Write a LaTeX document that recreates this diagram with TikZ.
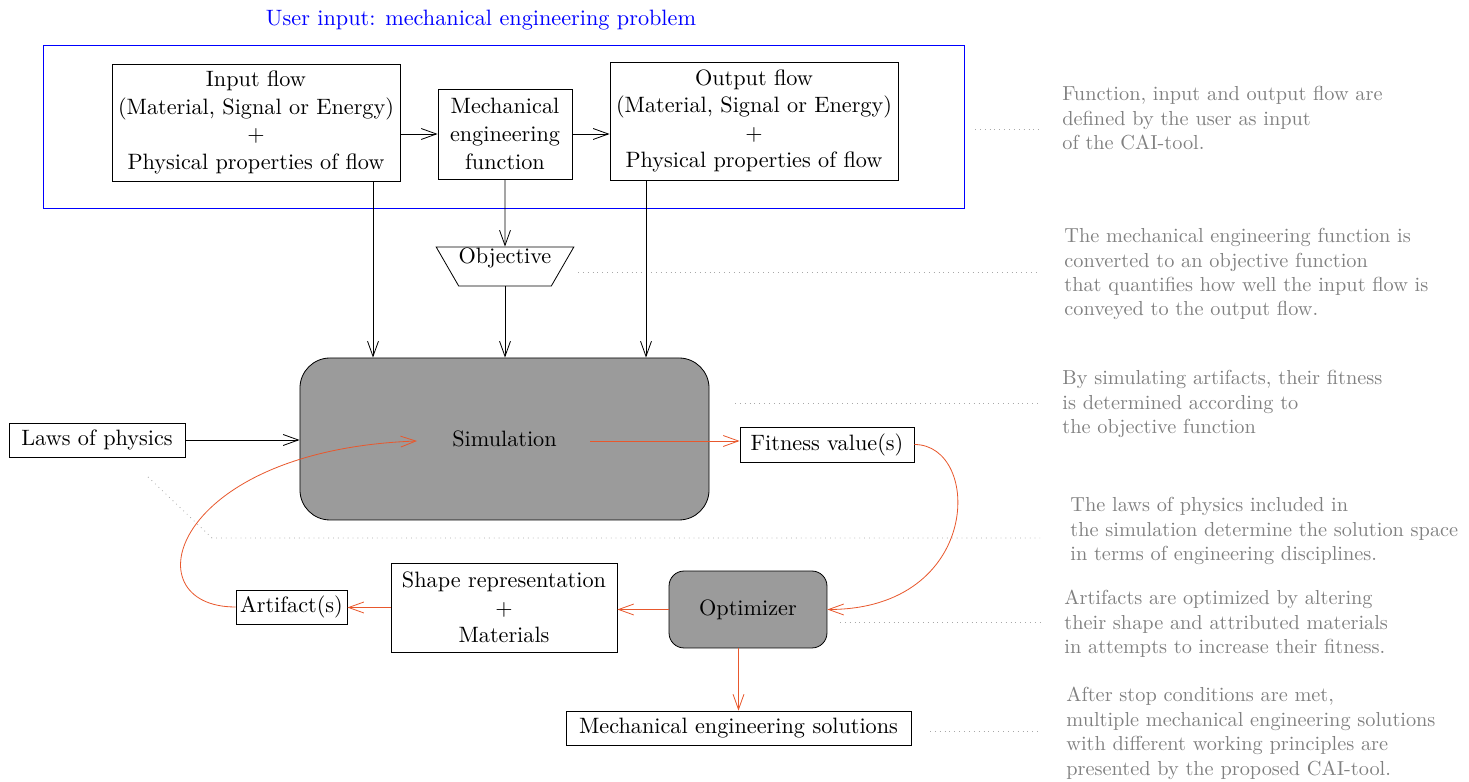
\documentclass[tikz,border=0pt,11pt]{standalone}
\usetikzlibrary{arrows.meta,shapes.geometric}
\definecolor{looporange}{RGB}{232,88,45}
\definecolor{blockgray}{RGB}{155,155,155}
\definecolor{notegray}{RGB}{128,128,128}
\definecolor{leadergray}{RGB}{168,168,168}
\begin{document}
\begin{tikzpicture}[x=0.4926pt,y=-0.4926pt,
  blackarrow/.style={draw=black,-{Straight Barb[length=7.5pt,width=5.4pt]}},
  redarrow/.style={draw=looporange,-{Straight Barb[length=7.5pt,width=5.4pt]}},
  plainbox/.style={draw, align=center, inner sep=0pt},
  grayblock/.style={draw, fill=blockgray, align=center, inner sep=0pt},
  annot/.style={text=notegray, font=\small, align=left, anchor=north west, inner sep=0pt},
  dotleader/.style={draw=leadergray, dotted}]
\useasboundingbox (0,0) rectangle (1469,782);

% user input frame
\node[draw=blue, minimum width=453.7pt, minimum height=80.3pt, inner sep=0pt] (userbox) at (503.5,126.5) {};
\node[text=blue] (usertitle) at (481,20) {User input: mechanical engineering problem};

\node[plainbox, minimum width=141.9pt, minimum height=57.6pt] (inflow) at (256,122.5)
  {Input flow\\(Material, Signal or Energy)\\+\\Physical properties of flow};
\node[plainbox, minimum width=66pt, minimum height=44.3pt] (mechf) at (505,134)
  {Mechanical\\engineering\\function};
\node[plainbox, minimum width=141.9pt, minimum height=58.1pt] (outflow) at (754,121)
  {Output flow\\(Material, Signal or Energy)\\+\\Physical properties of flow};

\node[draw, trapezium, shape border rotate=180, trapezium left angle=60, trapezium right angle=60,
  inner xsep=0pt, inner ysep=0pt, text height=7.9pt, text depth=11.3pt] (objective) at (505,266.5) {Objective};

% leader lines to the notes
\coordinate (l1a) at (975,129);  \coordinate (l1b) at (1040,129);
\coordinate (l2a) at (578,272);  \coordinate (l2b) at (1040,272);
\coordinate (l3a) at (735,403);  \coordinate (l3b) at (1040,403);
\coordinate (l4a) at (148,477);  \coordinate (l4k) at (212,538); \coordinate (l4b) at (1040,538);
\coordinate (l5a) at (840,622);  \coordinate (l5b) at (1040,622);
\coordinate (l6a) at (930,731);  \coordinate (l6b) at (1040,731);
\draw[dotleader] (l1a) -- (l1b);
\draw[dotleader] (l2a) -- (l2b);
\draw[dotleader] (l3a) -- (l3b);
\draw[dotleader] (l4a) -- (l4k) -- (l4b);
\draw[dotleader] (l5a) -- (l5b);
\draw[dotleader] (l6a) -- (l6b);

% simulation loop
\node[grayblock, rounded corners=14.8pt, minimum width=201.5pt, minimum height=79.8pt] (sim) at (504.5,439) {Simulation};
\coordinate (simin) at (417,441);
\coordinate (simout) at (590,441);
\node[plainbox, minimum width=86.7pt, minimum height=16.7pt] (laws) at (97,440) {Laws of physics};
\node[plainbox, minimum width=85.7pt, minimum height=17.2pt] (fitness) at (827,444.5) {Fitness value(s)};
\node[grayblock, rounded corners=7.4pt, minimum width=77.8pt, minimum height=37.9pt] (opt) at (748,609.5) {Optimizer};
\node[plainbox, minimum width=111.3pt, minimum height=43.8pt] (shape) at (504,607.5) {Shape representation\\+\\Materials};
\node[plainbox, minimum width=54.7pt, minimum height=16.7pt] (art) at (291.5,607) {Artifact(s)};
\node[plainbox, minimum width=170pt, minimum height=16.7pt] (sol) at (738.5,728) {Mechanical engineering solutions};

% black flows
\coordinate (inx) at (373,0);
\coordinate (outx) at (646,0);
\draw[blackarrow] (inflow.east |- mechf.west) -- (mechf.west);
\draw[blackarrow] (mechf.east) -- (outflow.west |- mechf.east);
\draw[blackarrow] (mechf.south) -- (objective.north);
\draw[blackarrow] (inflow.south -| inx) -- (sim.north -| inx);
\draw[blackarrow] (objective.south) -- (sim.north -| objective.south);
\draw[blackarrow] (outflow.south -| outx) -- (sim.north -| outx);
\draw[blackarrow] (laws.east) -- (sim.west |- laws.east);

% orange optimisation loop
\draw[redarrow] (simout) -- (fitness.west |- simout);
\draw[redarrow] (fitness.east) .. controls +(68,0) and +(155,0) .. (opt.east);
\draw[redarrow] (opt.west) -- (shape.east |- opt.west);
\draw[redarrow] (shape.west) -- (art.east |- shape.west);
\draw[redarrow] (art.west) .. controls +(-106,0) and +(-247,9) .. (simin);
\draw[redarrow] (opt.south -| sol.north) -- (sol.north);

% notes
\node[annot] (n1) at (1062,86) {Function, input and output flow are\\defined by the user as input\\of the CAI-tool.};
\node[annot] (n2) at (1064,228) {The mechanical engineering function is\\converted to an objective function\\that quantifies how well the input flow is\\conveyed to the output flow.};
\node[annot] (n3) at (1062,370) {By simulating artifacts, their fitness\\is determined according to\\the objective function};
\node[annot] (n4) at (1070,497) {The laws of physics included in\\the simulation determine the solution space\\in terms of engineering disciplines.};
\node[annot] (n5) at (1064,590) {Artifacts are optimized by altering\\their shape and attributed materials\\in attempts to increase their fitness.};
\node[annot] (n6) at (1066,687) {After stop conditions are met,\\multiple mechanical engineering solutions\\with different working principles are\\presented by the proposed CAI-tool.};
\end{tikzpicture}
\end{document}
